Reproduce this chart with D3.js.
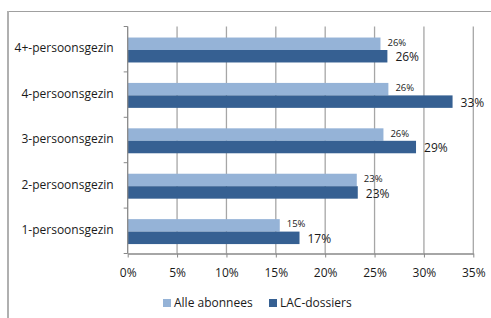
<!DOCTYPE html>
<html>
<head>
<meta charset="utf-8">
<script src="https://cdn.jsdelivr.net/npm/d3@7"></script>
<style>
  body { margin: 0; background: #fff; }
  svg { display: block; font-family: "Open Sans", sans-serif; }
</style>
</head>
<body>
<svg id="chart" width="491" height="318"></svg>
<script>
const categories = ["4+-persoonsgezin", "4-persoonsgezin", "3-persoonsgezin", "2-persoonsgezin", "1-persoonsgezin"];
const seriesNames = ["Alle abonnees", "LAC-dossiers"];
const alleAbonnees = [25.6, 26.4, 25.9, 23.2, 15.4];
const lacDossiers = [26.3, 32.9, 29.2, 23.3, 17.4];
const xTicks = [0, 5, 10, 15, 20, 25, 30, 35];

const colors = ["#95b3d7", "#366092"];

const svg = d3.select("#chart");
const margin = { top: 26.5, right: 17.7, bottom: 64.5, left: 127.7 };
const width = 491, height = 318;

// outer frame
svg.append("line").attr("x1", 8).attr("x2", width).attr("y1", 11.5).attr("y2", 11.5)
  .attr("stroke", "#a0a0a0").attr("stroke-width", 1);
svg.append("line").attr("x1", 8).attr("x2", 8).attr("y1", 11).attr("y2", height)
  .attr("stroke", "#b0b0b0").attr("stroke-width", 2);

const x = d3.scaleLinear().domain([0, 35]).range([margin.left, width - margin.right]);
const y = d3.scaleBand().domain(categories).range([margin.top, height - margin.bottom]);
const inner = d3.scaleBand().domain(seriesNames)
  .range([0, y.bandwidth()]).paddingInner(0).paddingOuter(0.82);

// grid
svg.append("g")
  .selectAll("line")
  .data(xTicks.slice(1))
  .join("line")
  .attr("x1", d => x(d)).attr("x2", d => x(d))
  .attr("y1", margin.top).attr("y2", height - margin.bottom)
  .attr("stroke", "#a6a6a6").attr("stroke-width", 1.3);

const rows = categories.map((c, i) => ({
  cat: c,
  vals: [alleAbonnees[i], lacDossiers[i]]
}));

const groups = svg.append("g")
  .selectAll("g")
  .data(rows)
  .join("g")
  .attr("transform", d => `translate(0,${y(d.cat) + 0.8})`);

groups.selectAll("rect")
  .data(d => d.vals.map((v, j) => ({ v, s: seriesNames[j], j })))
  .join("rect")
  .attr("x", x(0))
  .attr("y", d => inner(d.s))
  .attr("width", d => x(d.v) - x(0))
  .attr("height", inner.bandwidth())
  .attr("fill", (d) => colors[d.j]);

groups.selectAll("text")
  .data(d => d.vals.map((v, j) => ({ v, s: seriesNames[j], j })))
  .join("text")
  .attr("x", d => x(d.v) + (d.j === 0 ? 7 : 8))
  .attr("y", d => inner(d.s) + inner.bandwidth() / 2 + (d.j === 0 ? -0.5 : 2))
  .attr("dominant-baseline", "middle")
  .attr("font-size", d => d.j === 0 ? "9.5px" : "12px")
  .attr("fill", "#1a1a1a")
  .text(d => Math.round(d.v) + "%");

// axes
const xAxis = svg.append("g")
  .attr("transform", `translate(0,${height - margin.bottom})`)
  .call(d3.axisBottom(x).tickValues(xTicks).tickFormat(d => d + "%").tickSize(4).tickSizeOuter(0));
xAxis.select(".domain").attr("stroke", "#888").attr("stroke-width", 1.3);
xAxis.selectAll(".tick line").attr("stroke", "#888");
xAxis.selectAll(".tick text").attr("font-size", "12px").attr("fill", "#1a1a1a")
  .attr("font-family", "Open Sans").attr("dy", "1.35em");

const yTickPos = d3.range(categories.length + 1).map(i => margin.top + i * y.step());
svg.append("line")
  .attr("x1", x(0)).attr("x2", x(0))
  .attr("y1", margin.top).attr("y2", height - margin.bottom)
  .attr("stroke", "#888").attr("stroke-width", 1.3);
svg.append("g").selectAll("line")
  .data(yTickPos)
  .join("line")
  .attr("x1", x(0) - 4).attr("x2", x(0))
  .attr("y1", d => d).attr("y2", d => d)
  .attr("stroke", "#888");

svg.append("g").selectAll("text")
  .data(categories)
  .join("text")
  .attr("x", x(0) - 14)
  .attr("y", d => y(d) + y.bandwidth() / 2)
  .attr("dominant-baseline", "middle")
  .attr("text-anchor", "end")
  .attr("font-size", "12px")
  .attr("fill", "#1a1a1a")
  .text(d => d);

// legend
const legend = svg.append("g");
const legendX = [163, 269];
seriesNames.forEach((name, i) => {
  legend.append("rect")
    .attr("x", legendX[i]).attr("y", 299)
    .attr("width", 8).attr("height", 8)
    .attr("fill", colors[i]);
  legend.append("text")
    .attr("x", legendX[i] + 11).attr("y", 303.5)
    .attr("dominant-baseline", "middle")
    .attr("font-size", "12px")
    .attr("fill", "#1a1a1a")
    .text(name);
});
</script>
</body>
</html>
